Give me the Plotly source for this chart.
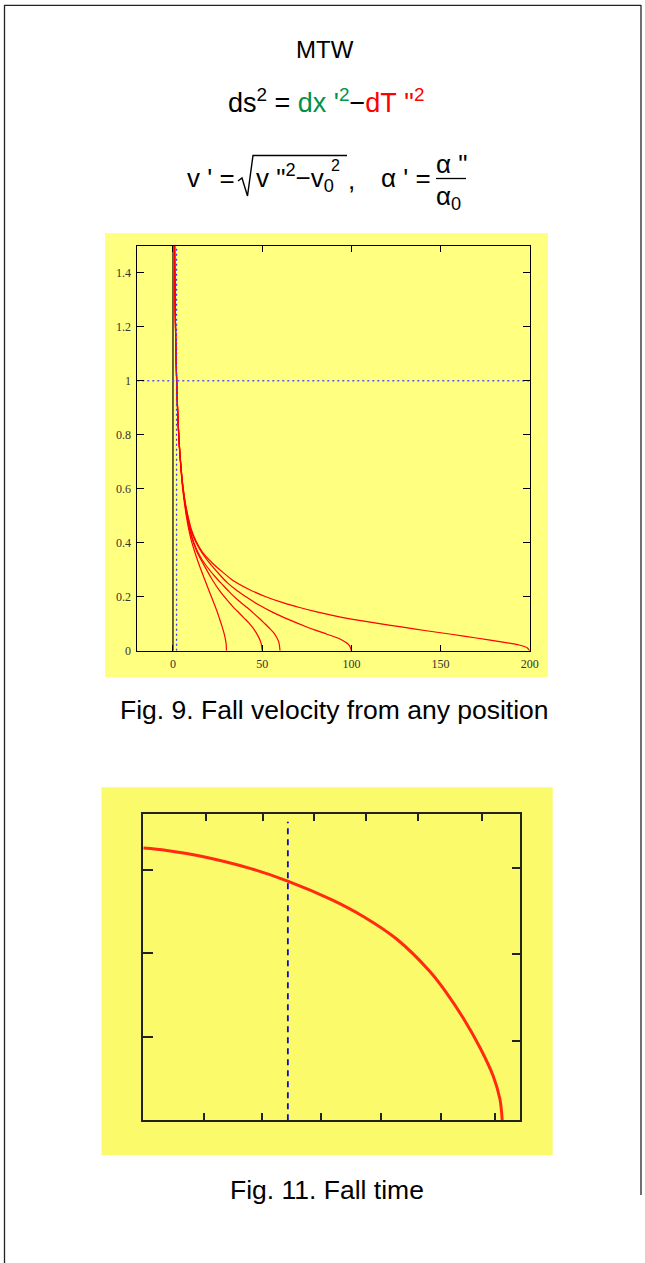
import plotly.graph_objects as go

W, H = 645, 1263

# ---------------- Fig. 9 data : fall velocity from start positions 30, 50, 60, 100, 200 ----------------
x30 = [0.9, 1.0, 1.3, 1.7, 2.2, 2.8, 3.6, 4.5, 5.5, 7.0, 8.5, 10.0, 12.0, 14.3, 17.4, 20.8, 23.0, 24.6, 26.0, 27.4, 28.6, 29.4, 29.8, 30.0]
y30 = [1.50, 1.41, 1.24, 1.09, 0.96, 0.85, 0.75, 0.67, 0.595, 0.52, 0.46, 0.415, 0.37, 0.325, 0.27, 0.212, 0.175, 0.148, 0.12, 0.092, 0.065, 0.042, 0.025, 0.0]

x50 = [0.9, 1.0, 1.3, 1.7, 2.2, 2.8, 3.6, 4.5, 5.6, 7.0, 8.5, 10.0, 12.0, 13.7, 16.0, 18.4, 21.2, 25.9, 30.5, 34.3, 37.5, 40.0, 42.5, 44.6, 46.5, 47.8, 49.0, 49.6, 50.0]
y50 = [1.50, 1.41, 1.245, 1.095, 0.965, 0.855, 0.755, 0.675, 0.60, 0.53, 0.475, 0.43, 0.39, 0.362, 0.333, 0.305, 0.272, 0.224, 0.186, 0.158, 0.137, 0.12, 0.103, 0.086, 0.068, 0.053, 0.035, 0.022, 0.0]

x60 = [0.9, 1.0, 1.3, 1.7, 2.2, 2.8, 3.6, 4.5, 5.6, 7.0, 8.5, 10.0, 12.0, 14.0, 16.5, 19.2, 23.9, 27.7, 31.4, 37.0, 41.7, 45.0, 48.3, 51.0, 54.3, 56.5, 58.3, 59.4, 60.0]
y60 = [1.50, 1.41, 1.245, 1.095, 0.965, 0.855, 0.755, 0.675, 0.60, 0.535, 0.48, 0.435, 0.395, 0.365, 0.335, 0.31, 0.272, 0.245, 0.219, 0.184, 0.159, 0.14, 0.12, 0.103, 0.082, 0.066, 0.047, 0.03, 0.0]

x100 = [0.9, 1.0, 1.3, 1.7, 2.2, 2.8, 3.6, 4.5, 5.6, 7.0, 8.7, 10.3, 13.0, 16.5, 20.1, 25.7, 30.4, 36.0, 42.0, 48.0, 56.0, 65.0, 75.0, 86.0, 93.0, 97.0, 99.0, 100.0]
y100 = [1.50, 1.415, 1.25, 1.10, 0.97, 0.86, 0.76, 0.68, 0.605, 0.54, 0.485, 0.44, 0.40, 0.36, 0.328, 0.285, 0.252, 0.222, 0.195, 0.17, 0.142, 0.115, 0.088, 0.062, 0.045, 0.03, 0.018, 0.0]

x200 = [0.9, 1.0, 1.3, 1.7, 2.2, 2.8, 3.6, 4.5, 5.6, 7.0, 8.7, 10.5, 13.0, 16.5, 22.0, 28.0, 33.0, 43.0, 52.0, 62.0, 71.0, 80.0, 90.0, 100.0, 114.0, 128.0, 142.0, 156.0, 170.0, 184.0, 194.0, 198.5, 200.0]
y200 = [1.50, 1.42, 1.25, 1.10, 0.97, 0.86, 0.76, 0.68, 0.61, 0.545, 0.49, 0.445, 0.405, 0.365, 0.325, 0.29, 0.263, 0.226, 0.20, 0.177, 0.16, 0.145, 0.13, 0.117, 0.102, 0.088, 0.074, 0.061, 0.047, 0.033, 0.021, 0.011, 0.0]

fig9_curves = [(x30, y30), (x50, y50), (x60, y60), (x100, y100), (x200, y200)]
fig9_x_range = [-20, 200]
fig9_y_range = [0, 1.5]
fig9_x_ticks = [0, 50, 100, 150, 200]
fig9_y_ticks = [0, 0.2, 0.4, 0.6, 0.8, 1.0, 1.2, 1.4]
fig9_zero_x = 0
fig9_horizon_x = 2
fig9_light_v = 1

# ---------------- Fig. 11 data : fall time ----------------
t_x = [0.0, 0.39, 0.945, 1.778, 2.407, 3.137, 3.667, 4.223, 4.778, 5.057, 5.333, 5.612, 5.833, 5.945, 5.983]
t_y = [3.265, 3.237, 3.17, 3.022, 2.869, 2.646, 2.444, 2.174, 1.784, 1.526, 1.227, 0.873, 0.531, 0.255, 0.0]
fig11_marker_x = 2.41
fig11_marker_top = 3.58
fig11_x_range = [0, 6.28]
fig11_y_range = [0, 3.67]
fig11_bottom_ticks = [1.02, 1.98, 2.96, 3.96, 4.96, 5.87]
fig11_top_ticks = [1.045, 1.99, 2.84, 3.71, 4.58, 5.65]
fig11_left_ticks = [1.0, 2.01, 3.0]
fig11_right_ticks = [0.95, 1.99, 3.03]


def px(x):
    return x / W


def py(y):
    return 1 - y / H


SANS = "Arial, 'Liberation Sans', sans-serif"
SERIF = "'Liberation Serif', 'Times New Roman', serif"
RED = "#FF0000"

fig = go.Figure()

# Fig. 9 curves
for cx, cy in fig9_curves:
    fig.add_trace(go.Scatter(x=cx, y=cy, mode="lines", xaxis="x", yaxis="y",
                             line=dict(color=RED, width=1.2, shape="spline", smoothing=0.6),
                             hoverinfo="skip"))
# x = 0 line
fig.add_trace(go.Scatter(x=[fig9_zero_x, fig9_zero_x], y=fig9_y_range, mode="lines", xaxis="x", yaxis="y",
                         line=dict(color="black", width=1.2), hoverinfo="skip"))
# blue dotted references
fig.add_trace(go.Scatter(x=[fig9_horizon_x, fig9_horizon_x], y=fig9_y_range, mode="lines", xaxis="x", yaxis="y",
                         line=dict(color="#3A3AFF", width=1.3, dash="2px,3px"), hoverinfo="skip"))
fig.add_trace(go.Scatter(x=fig9_x_range, y=[fig9_light_v, fig9_light_v], mode="lines", xaxis="x", yaxis="y",
                         line=dict(color="#5555FF", width=1.4, dash="2px,3px"), hoverinfo="skip"))

# Fig. 11 curve and marker
fig.add_trace(go.Scatter(x=t_x, y=t_y, mode="lines", xaxis="x2", yaxis="y2",
                         line=dict(color="#FF2A10", width=3, shape="spline", smoothing=1.0),
                         hoverinfo="skip"))
fig.add_trace(go.Scatter(x=[fig11_marker_x, fig11_marker_x], y=[0, fig11_marker_top], mode="lines",
                         xaxis="x2", yaxis="y2",
                         line=dict(color="#0A0ACF", width=1.8, dash="6px,5px"), hoverinfo="skip"))
# invisible trace hosting the overlay (top / right tick) axes
fig.add_trace(go.Scatter(x=fig11_x_range, y=fig11_y_range, mode="markers", xaxis="x3", yaxis="y3",
                         marker=dict(opacity=0), hoverinfo="skip"))

tickfont9 = dict(family=SERIF, size=12, color="#333333")

fig.update_layout(
    autosize=True,
    margin=dict(l=0, r=0, t=0, b=0, pad=0, autoexpand=False),
    paper_bgcolor="white", plot_bgcolor="rgba(0,0,0,0)",
    showlegend=False,
    xaxis=dict(domain=[px(137.3), px(529.8)], range=fig9_x_range, anchor="y", automargin=False,
               showline=True, linecolor="black", linewidth=1, mirror="ticks",
               ticks="inside", ticklen=6, tickcolor="black", tickwidth=1,
               tickvals=fig9_x_ticks, tickfont=tickfont9, ticklabelstandoff=2,
               showgrid=False, zeroline=False, fixedrange=True),
    yaxis=dict(domain=[py(650.7), py(245.7)], range=fig9_y_range, anchor="x", automargin=False,
               showline=True, linecolor="black", linewidth=1, mirror="ticks",
               ticks="inside", ticklen=7, tickcolor="black", tickwidth=1,
               tickvals=fig9_y_ticks, tickfont=tickfont9, ticklabelstandoff=3,
               showgrid=False, zeroline=False, fixedrange=True),
    xaxis2=dict(domain=[px(143.3), px(520)], range=fig11_x_range, anchor="y2", automargin=False,
                showline=True, linecolor="#222222", linewidth=2, mirror=True,
                ticks="inside", ticklen=7, tickwidth=2, tickcolor="#222222",
                tickvals=fig11_bottom_ticks, showticklabels=False,
                showgrid=False, zeroline=False, fixedrange=True),
    xaxis3=dict(overlaying="x2", anchor="y2", side="top", range=fig11_x_range, automargin=False,
                showline=False, ticks="inside", ticklen=7, tickwidth=2, tickcolor="#222222",
                tickvals=fig11_top_ticks, showticklabels=False,
                showgrid=False, zeroline=False, fixedrange=True),
    yaxis2=dict(domain=[py(1120.3), py(814.3)], range=fig11_y_range, anchor="x2", automargin=False,
                showline=True, linecolor="#222222", linewidth=2, mirror=True,
                ticks="inside", ticklen=10, tickwidth=2, tickcolor="#222222",
                tickvals=fig11_left_ticks, showticklabels=False,
                showgrid=False, zeroline=False, fixedrange=True),
    yaxis3=dict(overlaying="y2", anchor="x2", side="right", range=fig11_y_range, automargin=False,
                showline=False, ticks="inside", ticklen=8, tickwidth=2, tickcolor="#222222",
                tickvals=fig11_right_ticks, showticklabels=False,
                showgrid=False, zeroline=False, fixedrange=True),
)

shapes = [
    # yellow panels
    dict(type="rect", xref="paper", yref="paper", x0=px(105), x1=px(548), y0=py(677), y1=py(233),
         fillcolor="#FFFF80", line=dict(width=0), layer="below"),
    dict(type="rect", xref="paper", yref="paper", x0=px(101.5), x1=px(552.7), y0=py(1155), y1=py(787.3),
         fillcolor="#FAFA6A", line=dict(width=0), layer="below"),
    # page frame
    dict(type="line", xref="paper", yref="paper", x0=px(4), x1=px(641), y0=py(5.3), y1=py(5.3),
         line=dict(color="#222222", width=1.3)),
    dict(type="line", xref="paper", yref="paper", x0=px(4.5), x1=px(4.5), y0=py(5), y1=py(1263),
         line=dict(color="#222222", width=1.3)),
    dict(type="line", xref="paper", yref="paper", x0=px(641), x1=px(641), y0=py(5), y1=py(1195),
         line=dict(color="#222222", width=1.3)),
    # radical sign
    dict(type="path", xref="paper", yref="paper",
         path="M {},{} L {},{} L {},{} L {},{} L {},{}".format(
             px(238), py(181), px(242), py(178), px(247.5), py(196), px(253), py(155.5), px(347), py(155.5)),
         line=dict(color="black", width=1.4)),
    # fraction bar
    dict(type="line", xref="paper", yref="paper", x0=px(436), x1=px(466), y0=py(178.5), y1=py(178.5),
         line=dict(color="black", width=1.3)),
]
fig.update_layout(shapes=shapes)

GREEN = "#00924A"
NB = "\u00a0"
ann = []


def add_text(text, x, y, size, xanchor="center", color="black"):
    ann.append(dict(text=text, x=px(x), y=py(y), xref="paper", yref="paper",
                    xanchor=xanchor, yanchor="middle", showarrow=False,
                    font=dict(family=SANS, size=size, color=color)))


add_text("MTW", 325, 49, 24)
add_text("ds<sup>2</sup>" + NB + "=" + NB
         + "<span style='color:%s'>dx%s'<sup>2</sup></span>" % (GREEN, NB)
         + "−<span style='color:%s'>dT%s\"<sup>2</sup></span>" % (RED, NB),
         326, 101, 27)
add_text("v" + NB + "'" + NB + "=", 185, 178, 26, xanchor="left")
add_text("v" + NB + "\"<sup>2</sup>−v<sub>0</sub>", 254, 178, 26, xanchor="left")
add_text("2", 335.5, 165, 16)
add_text(",", 351, 180, 26)
add_text("α" + NB + "'" + NB + "=", 379, 178, 26, xanchor="left")
add_text("α" + NB + "\"", 451, 164, 26)
add_text("α<sub>0</sub>", 449, 198, 26)
add_text("Fig. 9. Fall velocity from any position", 334, 710, 26.5)
add_text("Fig. 11. Fall time", 327, 1190, 26.5)

fig.update_layout(annotations=ann)

fig.write_html(
    "out.html",
    config={"displayModeBar": False, "responsive": True},
    default_width="100vw",
    default_height="100vh; position:absolute; left:0px; top:0px",
    post_script="document.body.style.margin='0px';document.body.style.overflow='hidden';",
)
